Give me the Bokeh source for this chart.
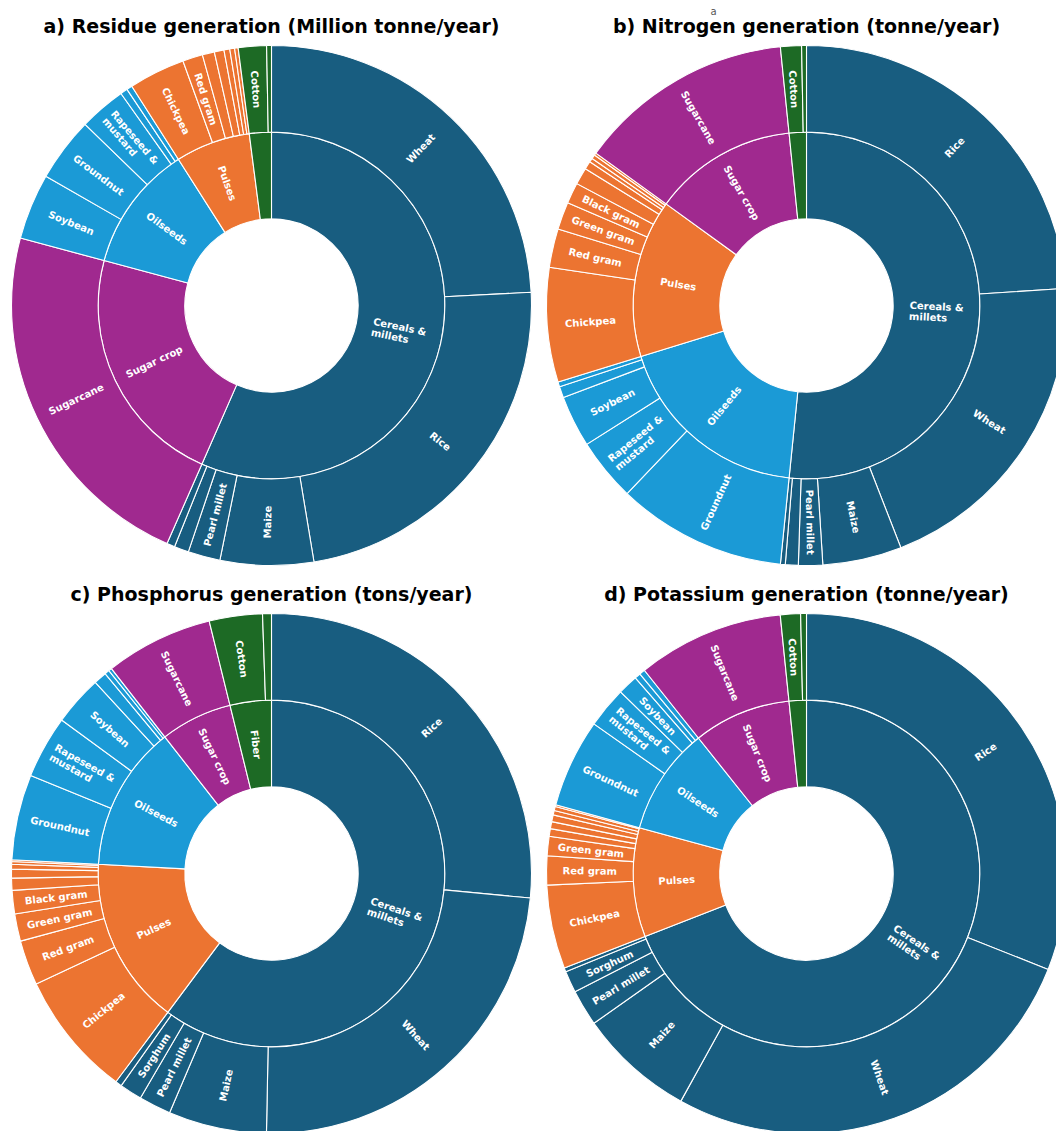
import numpy as np
from bokeh.plotting import figure
from bokeh.models import Range1d, ColumnDataSource
from bokeh.embed import file_html
from bokeh.resources import INLINE
from bokeh.core.properties import value

# ---------------- DATA (shares of total, %) ----------------
group_colors = {
    "Cereals & millets": "#185d80",
    "Sugar crop": "#a0298f",
    "Oilseeds": "#1b9ad6",
    "Pulses": "#ec7431",
    "Fiber": "#1d6a25",
}

# a) Residue generation
title_a = "a) Residue generation (Million tonne/year)"
crops_a = ["Wheat", "Rice", "Maize", "Pearl millet", "Sorghum", "Finger millet",
           "Sugarcane",
           "Soybean", "Groundnut", "Rapeseed & mustard", "Sunflower", "Sesame",
           "Chickpea", "Red gram", "Black gram", "Green gram", "Lentil", "Horse gram", "Other pulses",
           "Cotton", "Jute"]
parents_a = ["Cereals & millets"] * 6 + ["Sugar crop"] + ["Oilseeds"] * 5 + ["Pulses"] * 7 + ["Fiber"] * 2
values_a = [24.2, 23.2, 5.8, 2.0, 0.9, 0.5,
            22.6,
            4.1, 4.0, 2.9, 0.45, 0.35,
            3.5, 1.25, 0.75, 0.6, 0.36, 0.3, 0.22,
            1.75, 0.3]

# b) Nitrogen generation
title_b = "b) Nitrogen generation (tonne/year)"
crops_b = ["Rice", "Wheat", "Maize", "Pearl millet", "Sorghum", "Finger millet",
           "Groundnut", "Rapeseed & mustard", "Soybean", "Sunflower", "Sesame",
           "Chickpea", "Red gram", "Green gram", "Black gram", "Lentil", "Horse gram", "Moth bean", "Field pea", "Other pulses",
           "Sugarcane",
           "Cotton", "Jute"]
parents_b = ["Cereals & millets"] * 6 + ["Oilseeds"] * 5 + ["Pulses"] * 9 + ["Sugar crop"] + ["Fiber"] * 2
values_b = [23.9, 20.1, 4.9, 1.5, 0.8, 0.3,
            10.5, 3.9, 3.2, 0.7, 0.3,
            7.1, 2.4, 1.7, 1.3, 1.05, 0.5, 0.25, 0.25, 0.15,
            13.4,
            1.3, 0.3]

# c) Phosphorus generation
title_c = "c) Phosphorus generation (tons/year)"
crops_c = ["Rice", "Wheat", "Maize", "Pearl millet", "Sorghum", "Finger millet",
           "Chickpea", "Red gram", "Green gram", "Black gram", "Lentil", "Horse gram", "Moth bean", "Field pea", "Other pulses",
           "Groundnut", "Rapeseed & mustard", "Soybean", "Sunflower", "Sesame", "Linseed",
           "Sugarcane",
           "Cotton", "Jute"]
parents_c = ["Cereals & millets"] * 6 + ["Pulses"] * 9 + ["Oilseeds"] * 6 + ["Sugar crop"] + ["Fiber"] * 2
values_c = [26.5, 23.8, 6.1, 2.0, 1.4, 0.4,
            7.8, 2.8, 1.7, 1.45, 0.75, 0.55, 0.3, 0.17, 0.11,
            5.3, 3.9, 3.1, 0.8, 0.3, 0.2,
            6.7,
            3.3, 0.55]

# d) Potassium generation
title_d = "d) Potassium generation (tonne/year)"
crops_d = ["Rice", "Wheat", "Maize", "Pearl millet", "Sorghum", "Finger millet",
           "Chickpea", "Red gram", "Green gram", "Black gram", "Lentil", "Horse gram", "Moth bean", "Field pea", "Other pulses",
           "Groundnut", "Rapeseed & mustard", "Soybean", "Sunflower", "Sesame",
           "Sugarcane",
           "Cotton", "Jute"]
parents_d = ["Cereals & millets"] * 6 + ["Pulses"] * 9 + ["Oilseeds"] * 5 + ["Sugar crop"] + ["Fiber"] * 2
values_d = [31.0, 27.0, 7.2, 2.25, 1.35, 0.25,
            5.2, 1.8, 1.2, 0.47, 0.44, 0.42, 0.28, 0.25, 0.11,
            5.5, 2.55, 1.25, 0.36, 0.36,
            9.1,
            1.25, 0.36]

# ---------------- LAYOUT ----------------
W, H = 1056, 1131
R = 260.0
R_MID = R * 2 / 3
R_HOLE = R / 3
FONT = value("DejaVu Sans")

p = figure(width=W, height=H, x_range=Range1d(0, W), y_range=Range1d(0, H),
           output_backend="svg", toolbar_location=None, min_border=0)
p.axis.visible = False
p.grid.visible = False
p.outline_line_color = None
p.background_fill_color = "white"
p.border_fill_color = "white"


def wrap(s):
    return s.replace("& ", "&\n")


def draw(cx, cy_page, title, crops, parents, values):
    cy = H - cy_page
    total = float(sum(values))
    groups = []
    for g in parents:
        if g not in groups:
            groups.append(g)
    gvals = [sum(v for v, pp in zip(values, parents) if pp == g) for g in groups]

    for names, vals, cols, r0, r1 in [
        (groups, gvals, [group_colors[g] for g in groups], R_HOLE, R_MID),
        (crops, values, [group_colors[g] for g in parents], R_MID, R),
    ]:
        frac = np.array(vals, dtype=float) / total * 2 * np.pi
        ends = np.cumsum(frac)
        starts = ends - frac
        src = ColumnDataSource(dict(
            start=np.pi / 2 - ends, end=np.pi / 2 - starts, color=cols))
        p.annular_wedge(x=cx, y=cy, inner_radius=r0, outer_radius=r1,
                        start_angle="start", end_angle="end", direction="anticlock",
                        fill_color="color", line_color="white", line_width=1.1,
                        source=src)
        tx, ty, ta, tt = [], [], [], []
        rl = (r0 + r1) / 2
        for n, s, f in zip(names, starts, frac):
            if f * r0 < 12.5:
                continue
            th = s + f / 2
            tx.append(cx + rl * np.sin(th))
            ty.append(cy + rl * np.cos(th))
            ang = 90 - np.degrees(th)
            while ang <= -90:
                ang += 180
            while ang > 90:
                ang -= 180
            ta.append(np.radians(ang))
            tt.append(wrap(n))
        lsrc = ColumnDataSource(dict(x=tx, y=ty, a=ta, t=tt))
        p.text(x="x", y="y", text="t", angle="a", source=lsrc,
               text_font=FONT, text_font_style="bold", text_font_size="10px",
               text_color="white", text_align="left", anchor="center",
               text_baseline="middle", text_line_height=1.0)

    p.text(x=[cx], y=[cy + R + 20], text=[title], text_font=FONT,
           text_font_style="bold", text_font_size="19px", text_color="black",
           text_align="center", text_baseline="middle")


draw(271, 305, title_a, crops_a, parents_a, values_a)
draw(806, 305, title_b, crops_b, parents_b, values_b)
draw(271, 873, title_c, crops_c, parents_c, values_c)
draw(806, 873, title_d, crops_d, parents_d, values_d)

# stray small mark above "Nitrogen" in the reference
p.text(x=[713], y=[H - 11], text=["a"], text_font=FONT, text_font_size="10px",
       text_color="#555555", text_align="center", text_baseline="middle")

open("out.html", "w").write(file_html(p, INLINE))
